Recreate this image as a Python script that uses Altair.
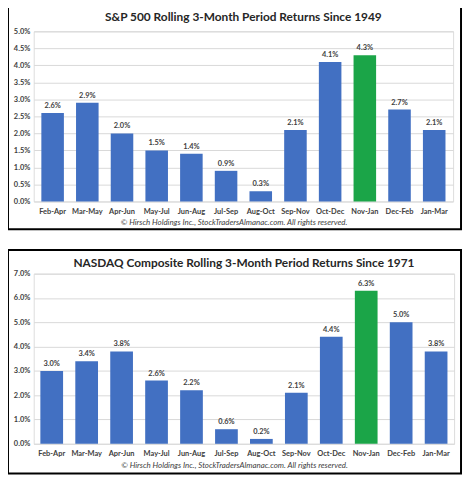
import altair as alt
import pandas as pd

periods = ["Feb-Apr", "Mar-May", "Apr-Jun", "May-Jul", "Jun-Aug", "Jul-Sep",
           "Aug-Oct", "Sep-Nov", "Oct-Dec", "Nov-Jan", "Dec-Feb", "Jan-Mar"]
sp500 = [2.6, 2.9, 2.0, 1.5, 1.4, 0.9, 0.3, 2.1, 4.1, 4.3, 2.7, 2.1]
nasdaq = [3.0, 3.4, 3.8, 2.6, 2.2, 0.6, 0.2, 2.1, 4.4, 6.3, 5.0, 3.8]
highlight = "Nov-Jan"
sp_ticks = [0.0, 0.005, 0.01, 0.015, 0.02, 0.025, 0.03, 0.035, 0.04, 0.045, 0.05]
nq_ticks = [0.0, 0.01, 0.02, 0.03, 0.04, 0.05, 0.06, 0.07]
sp_title = "S&P 500 Rolling 3-Month Period Returns Since 1949"
nq_title = "NASDAQ Composite Rolling 3-Month Period Returns Since 1971"
footnote = "\u00a9 Hirsch  Holdings Inc.,  StockTradersAlmanac.com.   All rights reserved."

BLUE = "#4270C2"
GREEN = "#1BA548"
FONT = "Lato"
TXT = "#404040"


def panel(values, title, ticks, ymax, W, H, fr, pad_outer, title_offset):
    df = pd.DataFrame({"period": periods, "ret": [v / 100 for v in values]})
    df["label"] = [f"{v:.1f}%" for v in values]
    df["hl"] = ["hl" if p == highlight else "no" for p in periods]
    base = alt.Chart(df)
    x = alt.X("period:N", sort=periods,
              scale=alt.Scale(paddingInner=0.35, paddingOuter=pad_outer),
              axis=alt.Axis(title=footnote, labelAngle=0, domain=False, ticks=False,
                            labelPadding=6, labelFont=FONT, labelFontSize=7.5,
                            labelFontWeight="bold", labelColor=TXT,
                            titleFont=FONT, titleFontSize=8, titleFontStyle="italic",
                            titleFontWeight="normal", titleColor=TXT, titlePadding=4,
                            titleX=W / 2 - 10))
    y = alt.Y("ret:Q", scale=alt.Scale(domain=[0, ymax], nice=False),
              axis=alt.Axis(values=ticks, format=".1%", title=None, domain=False,
                            ticks=False, labelPadding=4, labelFont=FONT,
                            labelFontSize=7.5, labelFontWeight="bold", labelColor=TXT,
                            gridColor="#D9D9D9", gridWidth=1))
    bars = base.mark_bar().encode(
        x=x, y=y,
        color=alt.Color("hl:N", scale=alt.Scale(domain=["no", "hl"], range=[BLUE, GREEN]),
                        legend=None))
    text = base.mark_text(dy=-7, font=FONT, fontSize=7.5, fontWeight="bold",
                          color=TXT).encode(x=x, y=y, text="label:N")
    frame = alt.Chart(pd.DataFrame({"f": [0]})).mark_rect(
        filled=False, stroke="black", strokeWidth=2).encode(
        x=alt.value(fr[0]), x2=alt.value(fr[1]), y=alt.value(fr[2]), y2=alt.value(fr[3]))
    return alt.layer(bars, text, frame).properties(
        width=W, height=H,
        title=alt.TitleParams(title, font=FONT, fontSize=12, fontWeight="bold",
                              color="#262626", offset=title_offset))


top = panel(sp500, sp_title, sp_ticks, 0.05, 424, 172, (-26, 432, -26, 200), 0.22, -20)
bottom = panel(nasdaq, nq_title, nq_ticks, 0.07, 425, 172, (-26, 432, -24, 202), 0.19, -21)

chart = alt.vconcat(top, bottom, spacing=17).properties(
    padding={"left": -2, "top": -7, "right": 0, "bottom": 0}).configure_view(
    stroke=None).configure(background="white")

chart.save("out.html", embed_options={"renderer": "svg", "actions": False})
